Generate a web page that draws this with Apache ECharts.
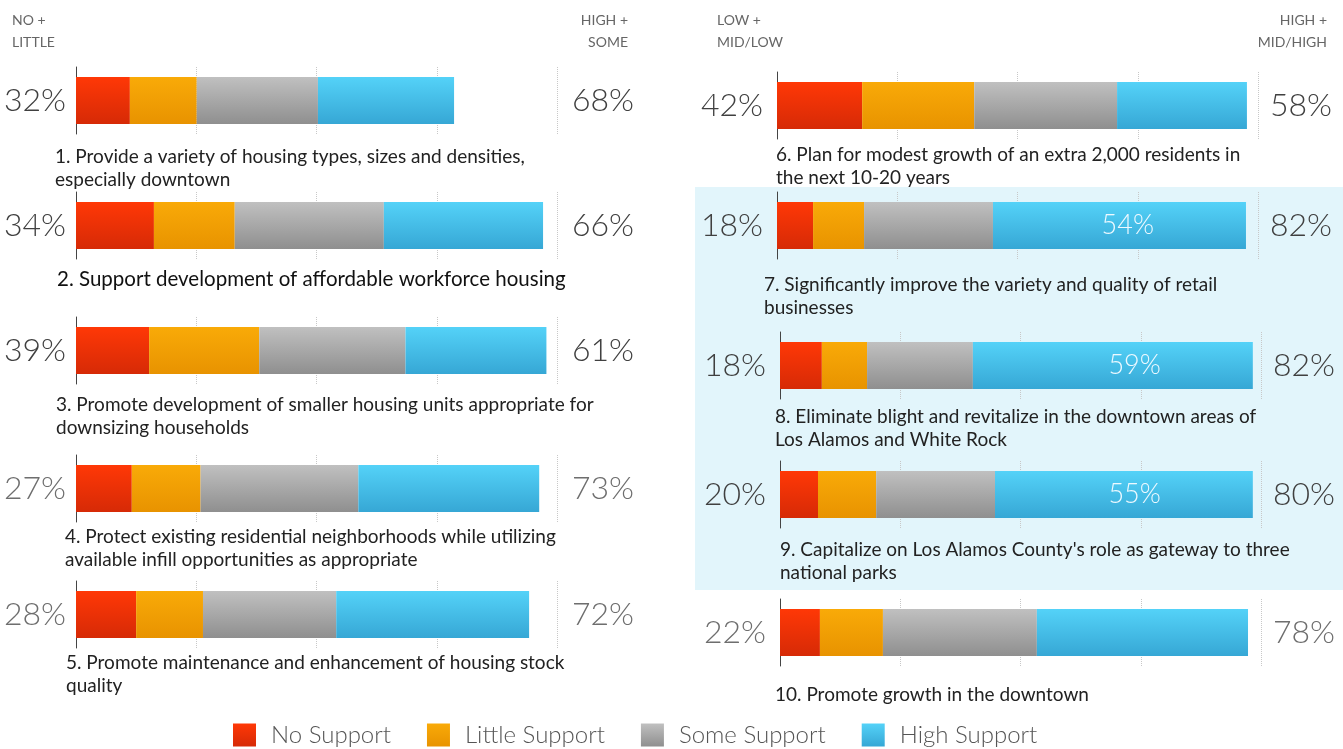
<!DOCTYPE html>
<html>
<head>
<meta charset="utf-8">
<script src="https://cdn.jsdelivr.net/npm/echarts@6/dist/echarts.min.js"></script>
<style>
  html,body{margin:0;padding:0;background:#ffffff;}
  #main{width:1343px;height:749px;}
</style>
</head>
<body>
<div id="main"></div>
<script>
// statements, one bar each (1-5 left panel, 6-10 right panel)
var categories = [
  '1. Provide a variety of housing types, sizes and densities,\nespecially downtown',
  '2. Support development of affordable workforce housing',
  '3. Promote development of smaller housing units appropriate for\ndownsizing households',
  '4. Protect existing residential neighborhoods while utilizing\navailable infill opportunities as appropriate',
  '5. Promote maintenance and enhancement of housing stock\nquality',
  '6. Plan for modest growth of an extra 2,000 residents in\nthe next 10-20 years',
  '7. Significantly improve the variety and quality of retail\nbusinesses',
  '8. Eliminate blight and revitalize in the downtown areas of\nLos Alamos and White Rock',
  "9. Capitalize on Los Alamos County's role as gateway to three\nnational parks",
  '10. Promote growth in the downtown'
];
var seriesNames = ['No Support', 'Little Support', 'Some Support', 'High Support'];
var noSupport     = [11.2, 16.2, 15.2, 11.6, 12.5, 17.7,  7.5,  8.7,  7.9,  8.3];
var littleSupport = [13.9, 16.8, 22.9, 14.3, 13.9, 23.3, 10.6,  9.4, 12.1, 13.1];
var someSupport   = [25.2, 31.0, 30.4, 32.8, 27.7, 29.7, 26.8, 22.0, 24.7, 32.0];
var highSupport   = [28.3, 33.1, 29.3, 37.6, 40.1, 27.0, 52.6, 58.2, 53.6, 43.9];
var lowPct  = ['32%', '34%', '39%', '27%', '28%', '42%', '18%', '18%', '20%', '22%'];
var highPct = ['68%', '66%', '61%', '73%', '72%', '58%', '82%', '82%', '80%', '78%'];
var highInside = ['', '', '', '', '', '', '54%', '59%', '55%', ''];
var headers = ['NO +\nLITTLE', 'HIGH +\nSOME', 'LOW +\nMID/LOW', 'HIGH +\nMID/HIGH'];
var xTicks = [0, 25, 50, 75, 100];

// layout (pixels) -- kept apart from the data
var barLeft = [76, 76, 76, 76, 76, 777, 777, 780, 780, 780];
var barTop  = [77, 202, 327, 465, 591, 82, 202, 342, 471, 609];
var labelPos = [[55, 145], [57, 268], [56, 393], [65, 525], [66, 651],
                [776, 143], [764, 273], [775, 405], [780, 538], [775, 683]];
var fadedRows = [3, 4, 9];
var BAR_H = 47, PAD = 10, AXIS_W = 481;

var colors = [
  ['#ff3806', '#d62a06'],
  ['#f9aa08', '#e89300'],
  ['#c0c0c0', '#8f8f8f'],
  ['#54d2f8', '#36a7d5']
];
function grad(c) {
  return {type: 'linear', x: 0, y: 0, x2: 0, y2: 1,
    colorStops: [{offset: 0, color: c[0]}, {offset: 1, color: c[1]}]};
}

var grid = [], xAxis = [], yAxis = [], series = [], graphic = [];

// light blue band behind rows 7-9
graphic.push({type: 'rect', z: -10, silent: true,
  shape: {x: 695, y: 187, width: 648, height: 403},
  style: {fill: '#e2f5fb'}});

categories.forEach(function (cat, i) {
  var left = i >= 5;
  var pctColor = fadedRows.indexOf(i) >= 0 ? '#6e6e6e' : '#404040';
  grid.push({left: barLeft[i], width: AXIS_W, top: barTop[i] - PAD, height: BAR_H + 2 * PAD});
  xAxis.push({
    type: 'value', gridIndex: i, min: xTicks[0], max: xTicks[xTicks.length - 1],
    interval: xTicks[1] - xTicks[0],
    axisLabel: {show: false}, axisLine: {show: false}, axisTick: {show: false},
    splitLine: {show: true, lineStyle: {type: 'dotted', color: '#c8c8c8', width: 1}}
  });
  yAxis.push({
    type: 'category', gridIndex: i, data: [lowPct[i]],
    axisLine: {show: true, lineStyle: {color: '#444', width: 1}},
    axisTick: {show: false},
    axisLabel: {margin: left ? 14 : 10, fontSize: 32, fontFamily: 'Lato', fontWeight: 300, color: pctColor}
  });
  yAxis.push({
    type: 'category', gridIndex: i, position: 'right', data: [highPct[i]],
    axisLine: {show: false}, axisTick: {show: false},
    axisLabel: {margin: left ? 12 : 15, fontSize: 32, fontFamily: 'Lato', fontWeight: 300, color: pctColor}
  });
  [noSupport, littleSupport, someSupport, highSupport].forEach(function (arr, k) {
    var s = {
      name: seriesNames[k], type: 'bar', stack: 'row' + i,
      xAxisIndex: i, yAxisIndex: i * 2, barWidth: BAR_H,
      itemStyle: {color: grad(colors[k])},
      emphasis: {disabled: true},
      data: [arr[i]]
    };
    if (k === 3 && highInside[i]) {
      s.label = {show: true, position: 'insideRight', distance: 92,
        formatter: highInside[i], fontSize: 27, fontFamily: 'Lato', fontWeight: 300, color: '#eef9ff'};
    }
    series.push(s);
  });
  var big = i === 1;
  graphic.push({type: 'text', x: labelPos[i][0], y: labelPos[i][1],
    style: {text: cat, fontFamily: 'Lato', fontSize: big ? 20.5 : 19, lineHeight: 23,
      fill: big ? '#111' : '#222', verticalAlign: 'top'}});
});

// column headers
[[12, 'left'], [628, 'right'], [717, 'left'], [1327, 'right']].forEach(function (h, j) {
  graphic.push({type: 'text', x: h[0], y: 9,
    style: {text: headers[j], align: h[1], verticalAlign: 'top', fontFamily: 'Lato',
      fontSize: 14, lineHeight: 22, fill: '#666'}});
});

var chart = echarts.init(document.getElementById('main'));
chart.setOption({
  animation: false,
  legend: {
    data: seriesNames, left: 233, top: 723, padding: 0, icon: 'rect',
    itemWidth: 23, itemHeight: 23, itemGap: 36, selectedMode: false,
    textStyle: {fontSize: 24, lineHeight: 23, fontFamily: 'Lato', fontWeight: 300, color: '#555',
      padding: [0, 0, 0, 10]}
  },
  grid: grid,
  xAxis: xAxis,
  yAxis: yAxis,
  graphic: graphic,
  series: series
});
</script>
</body>
</html>
